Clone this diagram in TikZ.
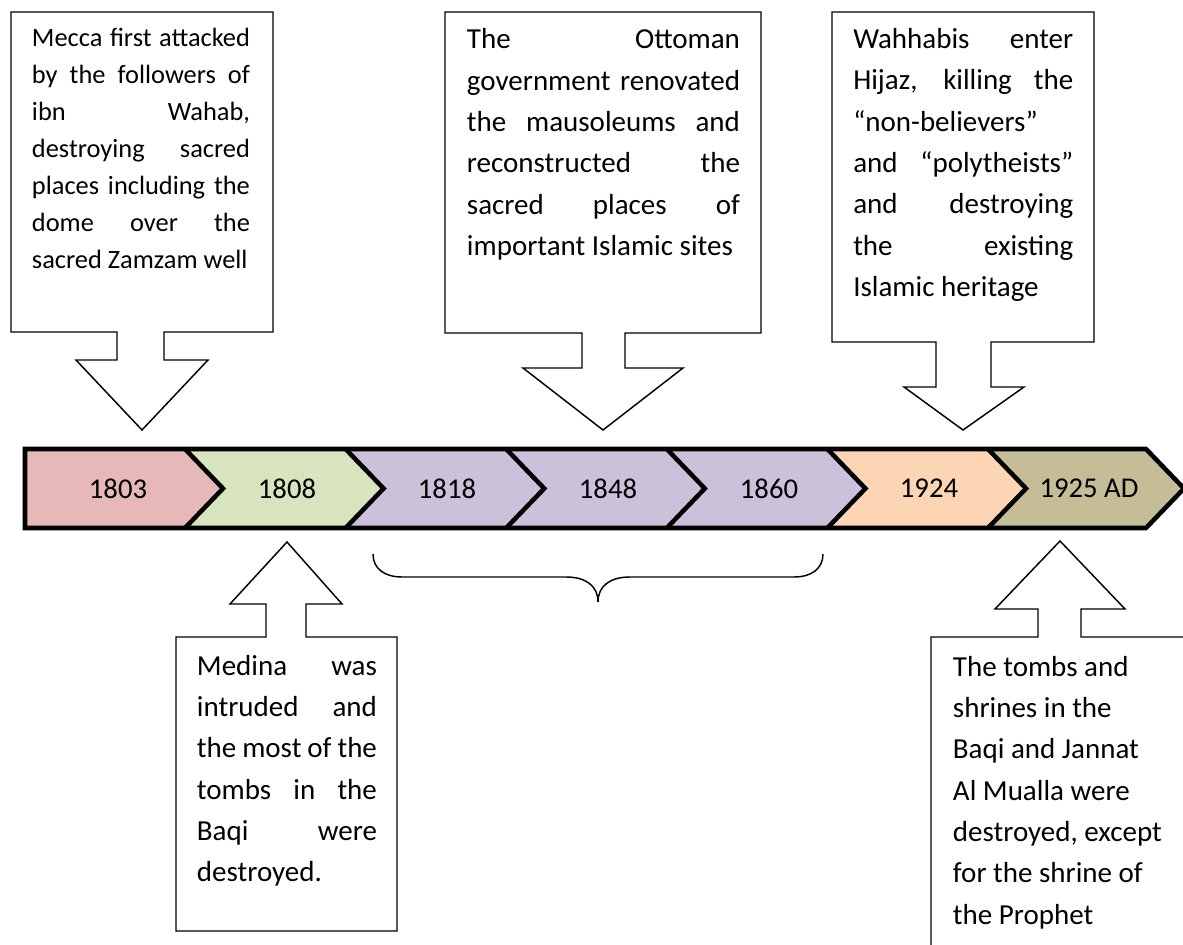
\documentclass[tikz,border=0pt]{standalone}
\usepackage{fontspec}
\setmainfont{Carlito}
\hbadness=10000
\hfuzz=30pt
\newcommand\jline[1]{\hbox to\hsize{#1}}
\newcommand\lline[1]{\hbox to\hsize{#1\hfil}}
\newcommand\smallf{\fontsize{19.8pt}{27.75pt}\selectfont}
\newcommand\bigf{\fontsize{21.75pt}{31pt}\selectfont}
\definecolor{cRed}{HTML}{E6B9B8}
\definecolor{cGreen}{HTML}{D7E4BD}
\definecolor{cPurple}{HTML}{CCC1DA}
\definecolor{cOrange}{HTML}{FCD5B5}
\definecolor{cTan}{HTML}{C4BD97}
\tikzset{
  callout/.style={draw=black, line width=1.1pt, fill=white, line join=miter},
  chevline/.style={draw=black, line width=3.4pt, line join=miter},
  year/.style={font=\fontsize{21.5pt}{26pt}\selectfont, inner sep=0pt},
  ctext/.style={anchor=base west, inner sep=0pt},
  bracel/.style={draw=black, line width=1.1pt},
}
\begin{document}
\begin{tikzpicture}[x=0.75pt,y=-0.75pt]
\useasboundingbox (0,0) rectangle (1183,945);
\clip (0,0) rectangle (1183,945);

% ---- chevron fills
\fill[cRed] (25,449) -- (185,449) -- (223,488.5) -- (185,528) -- (25,528) -- cycle;
\fill[cGreen] (185,449) -- (345.6,449) -- (383.6,488.5) -- (345.6,528) -- (185,528) -- (223,488.5) -- cycle;
\fill[cPurple] (345.6,449) -- (506.2,449) -- (544.2,488.5) -- (506.2,528) -- (345.6,528) -- (383.6,488.5) -- cycle;
\fill[cPurple] (506.2,449) -- (666.8,449) -- (704.8,488.5) -- (666.8,528) -- (506.2,528) -- (544.2,488.5) -- cycle;
\fill[cPurple] (666.8,449) -- (827.4,449) -- (865.4,488.5) -- (827.4,528) -- (666.8,528) -- (704.8,488.5) -- cycle;
\fill[cOrange] (827.4,449) -- (988,449) -- (1026,488.5) -- (988,528) -- (827.4,528) -- (865.4,488.5) -- cycle;
\fill[cTan] (988,449) -- (1146,449) -- (1184,488.5) -- (1146,528) -- (988,528) -- (1026,488.5) -- cycle;

% ---- chevron outlines
\foreach \n in {185,345.6,506.2,666.8,827.4,988}{
  \draw[chevline] (\n,449) -- (\n+38,488.5) -- (\n,528);
}
\draw[chevline] (25,449) -- (1146,449) -- (1184,488.5) -- (1146,528) -- (25,528) -- cycle;

% ---- years
\node[year] (y1803) at (118,488.5) {1803};
\node[year] (y1808) at (287,488.5) {1808};
\node[year] (y1818) at (447,488.5) {1818};
\node[year] (y1848) at (608,488.5) {1848};
\node[year] (y1860) at (769,488.5) {1860};
\node[year] (y1924) at (929,488.5) {1924};
\node[year] (y1925) at (1089,488.5) {1925 AD};

% ---- brace
\draw[bracel] (373,554) .. controls (373,569) and (385,577) .. (402,577)
  -- (566,577) .. controls (586,577) and (598,586) .. (598,602)
  .. controls (598,586) and (610,577) .. (630,577)
  -- (794,577) .. controls (811,577) and (823,569) .. (823,554);

% ---- down callouts
\draw[callout] (11,12) -- (273,12) -- (273,332) -- (164,332) -- (164,360) -- (208,360)
  -- (142,430) -- (76,360) -- (117,360) -- (117,332) -- (11,332) -- cycle;
\draw[callout] (445,12) -- (761,12) -- (761,333) -- (625,333) -- (625,368) -- (683,368)
  -- (603,430) -- (523,368) -- (582,368) -- (582,333) -- (445,333) -- cycle;
\draw[callout] (832,12) -- (1094,12) -- (1094,342) -- (991,342) -- (991,387) -- (1024,387)
  -- (963,430) -- (904,387) -- (936,387) -- (936,342) -- (832,342) -- cycle;

% ---- up callouts
\draw[callout] (176,931) -- (176,637) -- (266,637) -- (266,604) -- (230,604) -- (287,542)
  -- (342,604) -- (306,604) -- (306,637) -- (397,637) -- (397,931) -- cycle;
\draw[callout] (931,1000) -- (931,637) -- (1038,637) -- (1038,609) -- (995,609) -- (1060,541)
  -- (1125,609) -- (1081,609) -- (1081,637) -- (1189,637) -- (1189,1000) -- cycle;

% ---- callout texts
\node[ctext] (c1) at (31.7,46.7) {\parbox[t]{163.5pt}{\smallf
  \jline{Mecca first attacked}
  \jline{by the followers of}
  \jline{ibn Wahab,}
  \jline{destroying sacred}
  \jline{places including the}
  \jline{dome over the}
  \lline{sacred Zamzam well}}};
\node[ctext] (c2) at (466.7,49) {\parbox[t]{204.75pt}{\bigf
  \jline{The Ottoman}
  \jline{government renovated}
  \jline{the mausoleums and}
  \jline{reconstructed the}
  \jline{sacred places of}
  \lline{important Islamic sites}}};
\node[ctext] (c3) at (853,48.5) {\parbox[t]{165pt}{\bigf
  \jline{Wahhabis enter}
  \jline{Hijaz, killing the}
  \lline{“non-believers”}
  \jline{and “polytheists”}
  \jline{and destroying}
  \jline{the existing}
  \lline{Islamic heritage}}};
\node[ctext] (c4) at (196.7,675) {\parbox[t]{135pt}{\bigf
  \jline{Medina was}
  \jline{intruded and}
  \jline{the most of the}
  \jline{tombs in the}
  \jline{Baqi were}
  \lline{destroyed.}}};
\node[ctext] (c5) at (952.7,676) {\parbox[t]{165pt}{\bigf
  \lline{The tombs and}
  \lline{shrines in the}
  \lline{Baqi and Jannat}
  \lline{Al Mualla were}
  \lline{destroyed, except}
  \lline{for the shrine of}
  \lline{the Prophet}}};
\end{tikzpicture}
\end{document}
